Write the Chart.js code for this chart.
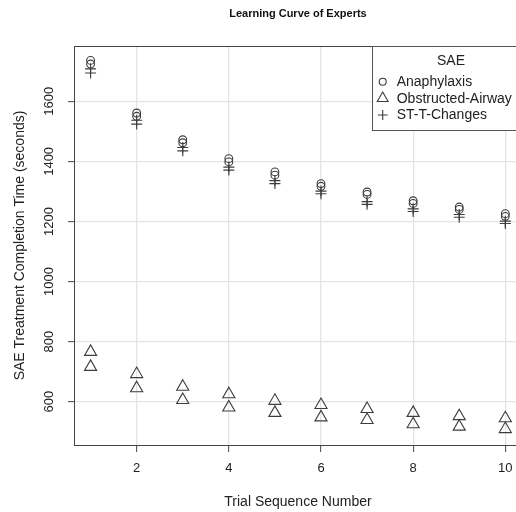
<!DOCTYPE html>
<html>
<head>
<meta charset="utf-8">
<script src="https://cdn.jsdelivr.net/npm/chart.js@4/dist/chart.umd.min.js"></script>
<style>
  html, body { margin: 0; padding: 0; background: #fff; overflow: hidden; }
  #wrap { width: 530px; height: 512px; }
</style>
</head>
<body>
<div id="wrap"><canvas id="c" width="530" height="512"></canvas></div>
<script>
// Trial numbers and completion times (seconds), two estimates per SAE type
const trials = [1, 2, 3, 4, 5, 6, 7, 8, 9, 10];
const anaphylaxisA = [1736, 1561, 1472, 1409, 1365, 1326, 1298, 1269, 1248, 1226];
const anaphylaxisB = [1724, 1550, 1462, 1398, 1354, 1317, 1290, 1260, 1240, 1217];
const airwayA = [766, 692, 650, 625, 603, 589, 576, 563, 552, 545];
const airwayB = [716, 645, 606, 581, 563, 548, 539, 525, 517, 509];
const stChangesA = [1708, 1537, 1446, 1381, 1336, 1301, 1266, 1242, 1223, 1201];
const stChangesB = [1694, 1524, 1435, 1371, 1326, 1292, 1257, 1233, 1214, 1193];

const xTicks = [2, 4, 6, 8, 10];
const yTicks = [600, 800, 1000, 1200, 1400, 1600];
const saeNames = ['Anaphylaxis', 'Obstructed-Airway', 'ST-T-Changes'];

const FONT = 'Liberation Sans, Arial, Helvetica, sans-serif';
const INK = '#3c3c3c';
const SYM = { circle: 3.9, triangle: 7, cross: 5.5 };

function pts(ys) { return trials.map((t, i) => ({ x: t, y: ys[i] })); }
function series(label, ys, style) {
  return {
    label, data: pts(ys), pointStyle: style, pointRadius: SYM[style],
    borderColor: INK, backgroundColor: 'rgba(0,0,0,0)', pointBorderWidth: 1.1,
    showLine: false
  };
}

// Full box around the plotting region plus the keyed legend in the upper right
const boxAndLegend = {
  id: 'boxAndLegend',
  afterDraw(chart) {
    const { ctx, chartArea: a } = chart;
    ctx.save();
    ctx.strokeStyle = '#444';
    ctx.lineWidth = 1;
    ctx.strokeRect(a.left + 0.5, a.top + 0.5, a.right - a.left, a.bottom - a.top);

    const lx = 372, ly = a.top + 0.5, lw = a.right - lx + 0.5, lh = 84;
    ctx.fillStyle = '#fff';
    ctx.fillRect(lx, ly, lw, lh);
    ctx.strokeStyle = '#555';
    ctx.strokeRect(lx + 0.5, ly, lw, lh);

    ctx.fillStyle = '#222';
    ctx.font = '14px ' + FONT;
    ctx.textBaseline = 'middle';
    ctx.textAlign = 'center';
    ctx.fillText('SAE', 451, 61);
    ctx.textAlign = 'left';
    const styles = ['circle', 'triangle', 'cross'];
    const rows = [81.7, 98.3, 115];
    ctx.strokeStyle = INK;
    ctx.lineWidth = 1.1;
    styles.forEach((s, i) => {
      const x = 382.7, y = rows[i], r = SYM[s] * 0.9;
      ctx.beginPath();
      if (s === 'circle') {
        ctx.arc(x, y, r, 0, Math.PI * 2);
      } else if (s === 'triangle') {
        let rad = 0;
        ctx.moveTo(x + Math.sin(rad) * r, y - Math.cos(rad) * r);
        rad += 2 * Math.PI / 3;
        ctx.lineTo(x + Math.sin(rad) * r, y - Math.cos(rad) * r);
        rad += 2 * Math.PI / 3;
        ctx.lineTo(x + Math.sin(rad) * r, y - Math.cos(rad) * r);
        ctx.closePath();
      } else {
        ctx.moveTo(x, y - r); ctx.lineTo(x, y + r);
        ctx.moveTo(x - r, y); ctx.lineTo(x + r, y);
      }
      ctx.stroke();
      ctx.fillText(saeNames[i], 396.7, y + 0.5);
    });
    ctx.restore();
  }
};

new Chart(document.getElementById('c'), {
  type: 'scatter',
  data: {
    datasets: [
      series('Anaphylaxis', anaphylaxisA, 'circle'),
      series('Anaphylaxis', anaphylaxisB, 'circle'),
      series('Obstructed-Airway', airwayA, 'triangle'),
      series('Obstructed-Airway', airwayB, 'triangle'),
      series('ST-T-Changes', stChangesA, 'cross'),
      series('ST-T-Changes', stChangesB, 'cross')
    ]
  },
  options: {
    responsive: false,
    animation: false,
    events: [],
    layout: { padding: { top: 0, right: 7, bottom: 0, left: 0 } },
    plugins: {
      legend: { display: false },
      tooltip: { enabled: false },
      title: {
        display: true,
        fullSize: false,
        text: 'Learning Curve of Experts',
        color: '#111',
        font: { family: FONT, size: 11, weight: 'bold' },
        padding: { top: 7.4, bottom: 25.4 }
      }
    },
    scales: {
      x: {
        type: 'linear',
        min: 0.64, max: 10.36,
        afterBuildTicks(s) { s.ticks = xTicks.map(v => ({ value: v })); },
        afterFit(s) { s.height = 67; },
        grid: { color: '#e4e4e4', lineWidth: 1.3, tickColor: '#444', tickLength: 7, tickWidth: 1 },
        border: { display: true, color: '#444', width: 1 },
        ticks: { color: '#222', font: { family: FONT, size: 13 }, padding: 9, maxRotation: 0 },
        title: {
          display: true, text: 'Trial Sequence Number', color: '#222',
          font: { family: FONT, size: 14 }, padding: { top: 0, bottom: 1.6 }
        }
      },
      y: {
        type: 'linear',
        min: 456, max: 1784,
        afterBuildTicks(s) { s.ticks = yTicks.map(v => ({ value: v })); },
        afterFit(s) { s.width = 74; },
        grid: { color: '#e4e4e4', lineWidth: 1.3, tickColor: '#444', tickLength: 6, tickWidth: 1 },
        border: { display: true, color: '#444', width: 1 },
        ticks: {
          color: '#222', font: { family: FONT, size: 13 }, padding: 4,
          minRotation: 90, maxRotation: 90, crossAlign: 'center',
          callback: v => String(v)
        },
        title: {
          display: true, text: 'SAE Treatment Completion Time (seconds)', color: '#222',
          font: { family: FONT, size: 14 }, padding: { top: 11.6, bottom: 0 }
        }
      }
    }
  },
  plugins: [boxAndLegend]
});
</script>
</body>
</html>
